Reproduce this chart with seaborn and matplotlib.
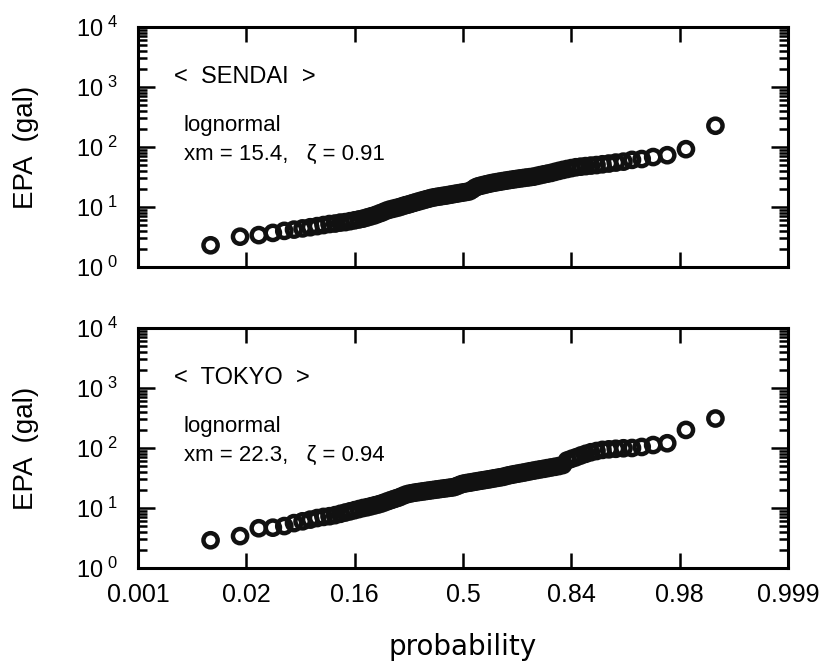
import numpy as np
import pandas as pd
import matplotlib
matplotlib.use("Agg")
import matplotlib.pyplot as plt
import seaborn as sns
from matplotlib.ticker import FixedLocator, FixedFormatter, LogLocator, NullFormatter
from statistics import NormalDist

# Ranked EPA records (gal) for each station
sendai_epa = [
    2.3, 3.2, 3.4, 3.7, 4.0, 4.2, 4.4, 4.6, 4.8, 5.0,
    5.2, 5.3, 5.5, 5.6, 5.8, 6.0, 6.2, 6.4, 6.7, 7.0,
    7.3, 7.7, 8.1, 8.6, 9.0, 9.3, 9.6, 9.9, 10.3, 10.7,
    11.0, 11.4, 11.8, 12.2, 12.6, 13.0, 13.4, 13.8, 14.2, 14.5,
    14.8, 15.0, 15.3, 15.5, 15.8, 16.1, 16.4, 16.7, 17.0, 17.3,
    17.6, 17.9, 18.3, 19.5, 21.0, 22.0, 22.6, 23.2, 23.8, 24.4,
    25.0, 25.5, 26.0, 26.5, 27.0, 27.5, 28.0, 28.5, 29.0, 29.5,
    30.0, 30.5, 31.0, 31.5, 32.0, 33.0, 34.0, 35.0, 36.0, 37.0,
    38.5, 40.0, 41.5, 43.0, 44.5, 46.0, 47.0, 48.0, 49.0, 50.0,
    51.5, 53.0, 55.0, 57.0, 61.0, 63.0, 68.0, 73.0, 92.0, 226.0,
]
tokyo_epa = [
    2.9, 3.4, 4.6, 4.7, 5.0, 5.6, 6.0, 6.4, 6.8, 7.1,
    7.3, 7.6, 8.0, 8.4, 8.8, 9.2, 9.6, 10.0, 10.3, 10.7,
    11.1, 11.5, 12.0, 12.6, 13.2, 13.8, 14.4, 15.0, 15.8, 16.6,
    17.2, 17.6, 18.0, 18.3, 18.6, 18.9, 19.2, 19.5, 19.8, 20.1,
    20.4, 20.7, 21.0, 21.3, 21.6, 21.9, 22.2, 23.0, 24.0, 25.0,
    25.6, 26.1, 26.5, 27.0, 27.5, 28.0, 28.5, 29.0, 29.5, 30.0,
    30.6, 31.2, 31.8, 32.4, 33.0, 34.0, 35.0, 35.8, 36.6, 37.4,
    38.2, 39.0, 40.0, 41.0, 42.0, 43.0, 44.0, 45.0, 46.2, 47.4,
    48.6, 50.0, 52.0, 62.0, 66.0, 70.0, 75.0, 80.0, 85.0, 89.0,
    93.0, 95.0, 97.0, 99.0, 100.0, 104.0, 112.0, 120.0, 200.0, 310.0,
]

stations = ["SENDAI", "TOKYO"]
fit_xm = [15.4, 22.3]
fit_zeta = [0.91, 0.94]

# Normal-probability axis: standard normal quantiles and their labels
prob_quantiles = [-3, -2, -1, 0, 1, 2, 3]
prob_labels = ["0.001", "0.02", "0.16", "0.5", "0.84", "0.98", "0.999"]
decades = [0, 1, 2, 3, 4]


def probability_frame(values):
    """Weibull plotting positions i/(n+1) expressed as normal quantiles."""
    v = np.sort(np.asarray(values, dtype=float))
    n = len(v)
    p = np.arange(1, n + 1) / (n + 1)
    z = [NormalDist().inv_cdf(q) for q in p]
    return pd.DataFrame({"z": z, "EPA": v, "p": p})


sns.set_theme(style="ticks")
plt.rcParams["font.family"] = ["Liberation Sans", "DejaVu Sans"]
plt.rcParams["axes.linewidth"] = 2.2
plt.rcParams["axes.edgecolor"] = "black"

W, H = 823, 668
fig = plt.figure(figsize=(W / 100, H / 100), dpi=100)
ax_top = fig.add_axes([138 / W, 1 - 267 / H, 650 / W, 240 / H])
ax_bot = fig.add_axes([138 / W, 1 - 568 / H, 650 / W, 240 / H])

for ax, name, data, xm, zeta in zip(
    [ax_top, ax_bot], stations, [sendai_epa, tokyo_epa], fit_xm, fit_zeta
):
    df = probability_frame(data)
    sns.scatterplot(
        data=df, x="z", y="EPA", ax=ax, marker="o", s=105,
        facecolor="none", edgecolor="#111111", linewidth=3.2, legend=False,
    )
    ax.set_yscale("log")
    ax.set_ylim(1, 1e4)
    ax.set_xlim(-3, 3)

    ax.xaxis.set_major_locator(FixedLocator(prob_quantiles))
    ax.yaxis.set_major_locator(FixedLocator([10.0 ** d for d in decades]))
    ax.yaxis.set_major_formatter(
        FixedFormatter([r"$\mathregular{10^{\ %d}}$" % d for d in decades])
    )
    ax.yaxis.set_minor_locator(LogLocator(base=10, subs=np.arange(2, 10), numticks=20))
    ax.yaxis.set_minor_formatter(NullFormatter())

    ax.tick_params(axis="x", which="major", direction="in", top=True, bottom=True,
                   length=11, width=1.8, color="black", pad=11, labelsize=18,
                   labelcolor="black")
    ax.tick_params(axis="y", which="major", direction="in", left=True, right=True,
                   length=12, width=1.8, color="black", pad=14, labelsize=17,
                   labelcolor="black")
    ax.tick_params(axis="y", which="minor", direction="in", left=True, right=True,
                   length=6.5, width=1.8, color="black")

    ax.set_xlabel("")
    ax.set_ylabel("EPA  (gal)", fontsize=20, color="black")
    ax.yaxis.set_label_coords(-0.153, 0.5)

    ax.text(0.055, 0.79, "<  %s  >" % name, transform=ax.transAxes,
            fontsize=17, va="center", ha="left", color="black")
    ax.text(0.07, 0.59, "lognormal", transform=ax.transAxes,
            fontsize=16, va="center", ha="left", color="black")
    ax.text(0.07, 0.468, "xm = %.1f,   \u03b6 = %.2f" % (xm, zeta),
            transform=ax.transAxes, fontsize=16, va="center", ha="left",
            color="black")

ax_top.set_xticklabels([])
ax_bot.set_xticklabels(prob_labels)

fig.text(463 / W, 1 - 647 / H, "probability", ha="center", va="center",
         fontsize=20, color="black", family="DejaVu Sans")

fig.savefig("out.png", dpi=100, facecolor="white")
